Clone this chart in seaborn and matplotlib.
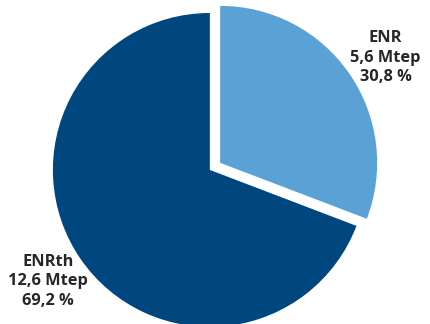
import matplotlib
matplotlib.use("Agg")
import matplotlib.pyplot as plt
import seaborn as sns

categories = ["ENR", "ENRth"]
mtep = ["5,6", "12,6"]
shares = [30.8, 69.2]
colors = ["#5AA2D6", "#00467F"]

sns.set_theme(style="white")
plt.rcParams["font.family"] = ["Open Sans", "DejaVu Sans"]

fig = plt.figure(figsize=(4.30, 3.24), dpi=100)
ax = fig.add_axes([0.123, -0.009, 0.730, 0.969])

ax.pie(shares, colors=colors, startangle=90, counterclock=False,
       explode=[0.08, 0.0], wedgeprops=dict(linewidth=0))
ax.set_xlim(-1, 1)
ax.set_ylim(-1, 1)
ax.set_aspect("equal")
for p in ax.patches:
    p.set_clip_on(False)
ax.axis("off")

label_pos = [(1.12, 0.715), (-1.03, -0.71)]
for cat, m, s, (x, y) in zip(categories, mtep, shares, label_pos):
    txt = f"{cat}\n{m} Mtep\n{s:.1f} %".replace(".", ",")
    ax.text(x, y, txt, ha="center", va="center", fontsize=11.8,
            fontweight="bold", color="#262626", linespacing=1.3)

fig.savefig("out.png", dpi=100, facecolor="white")
